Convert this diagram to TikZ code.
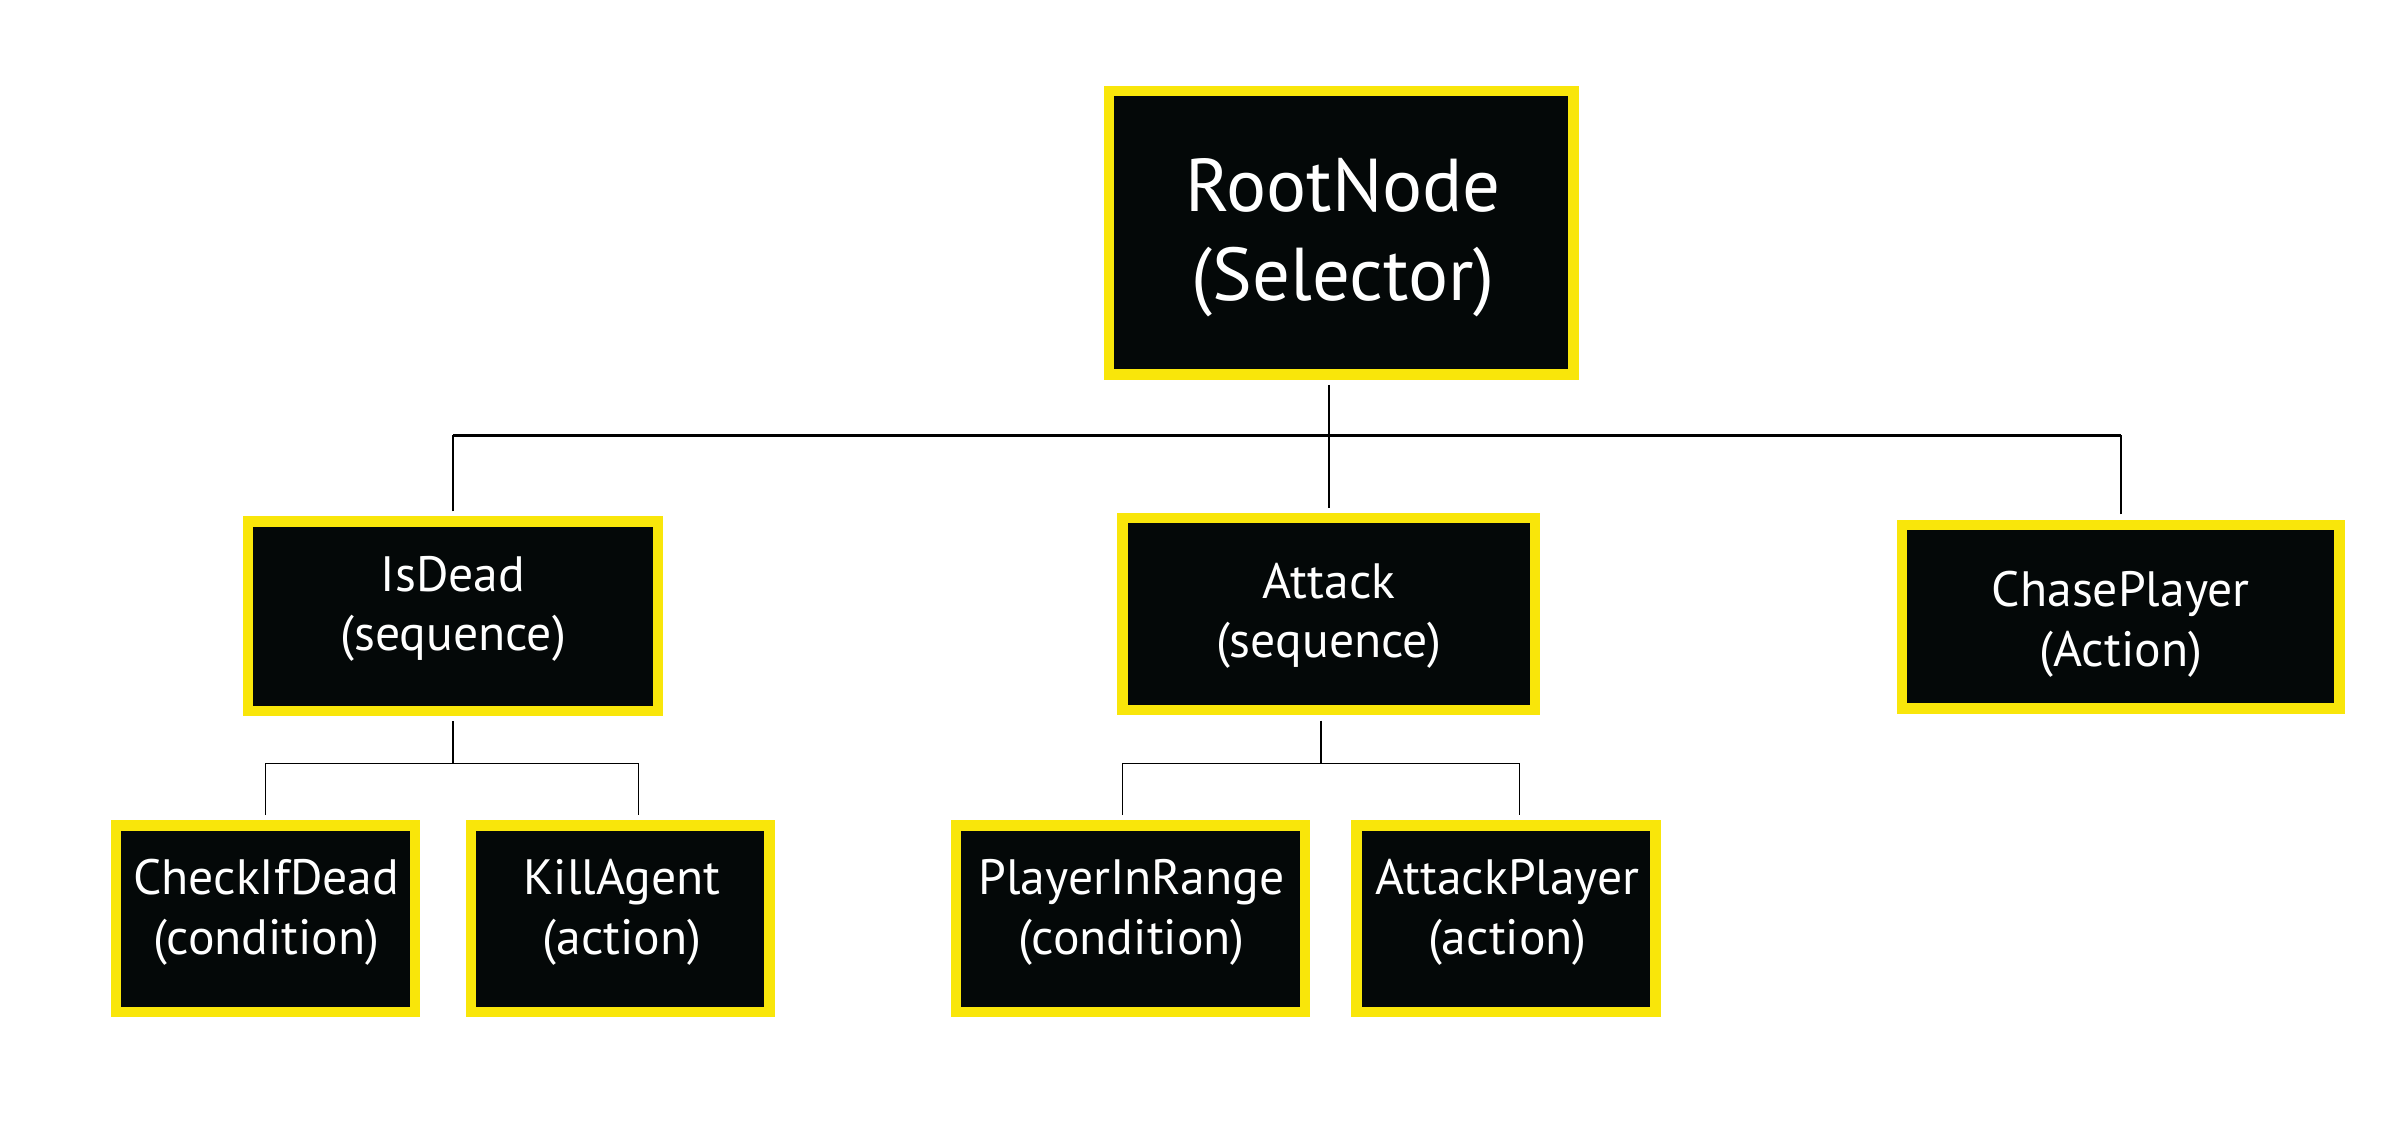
\documentclass[tikz,border=0pt]{standalone}
\usepackage{fontspec}
\setmainfont{PT Sans}
\definecolor{byellow}{RGB}{249,230,10}
\definecolor{bblack}{RGB}{4,8,8}
\tikzset{
  bt/.style={draw=byellow, fill=bblack, line width=6.7pt, inner sep=0pt},
  conn/.style={draw=black, line width=0.9pt},
  hconn/.style={draw=black, line width=1.4pt},
  bigtxt/.style={text=white, inner sep=0pt, anchor=base, font=\fontsize{49}{58}\selectfont},
  smtxt/.style={text=white, inner sep=0pt, anchor=base, font=\fontsize{32.5}{39}\selectfont}
}
\begin{document}
\begin{tikzpicture}[x=1pt,y=-1pt]
\useasboundingbox (0,0) rectangle (1568,737.5);
\fill[white] (0,0) rectangle (1568,737.5);
% boxes
\node[bt, minimum width=303.8pt, minimum height=185.5pt] (root) at (877.75,152.4) {};
\node[bt, minimum width=268.3pt, minimum height=123.8pt] (isdead) at (296.5,403.25) {};
\node[bt, minimum width=270pt, minimum height=125.9pt] (attack) at (869.65,401.9) {};
\node[bt, minimum width=286.3pt, minimum height=120.3pt] (chase) at (1387.9,403.5) {};
\node[bt, minimum width=195.3pt, minimum height=122.1pt] (check) at (173.7,601.2) {};
\node[bt, minimum width=195.3pt, minimum height=122.1pt] (kill) at (406,601.2) {};
\node[bt, minimum width=228.3pt, minimum height=122.1pt] (pir) at (739.8,601.2) {};
\node[bt, minimum width=195.7pt, minimum height=122.1pt] (ap) at (985.5,601.2) {};
% texts
\node[bigtxt] (root-a) at (879,138.6) {RootNode};
\node[bigtxt] (root-b) at (879,196.5) {(Selector)};
\node[smtxt] (isdead-a) at (296.5,386.8) {IsDead};
\node[smtxt] (isdead-b) at (296.5,425.4) {(sequence)};
\node[smtxt] (attack-a) at (869.65,391.9) {Attack};
\node[smtxt] (attack-b) at (869.65,430.3) {(sequence)};
\node[smtxt] (chase-a) at (1387.9,397) {ChasePlayer};
\node[smtxt] (chase-b) at (1387.9,436) {(Action)};
\node[smtxt] (check-a) at (174.3,585.6) {CheckIfDead};
\node[smtxt] (check-b) at (174.3,624.7) {(condition)};
\node[smtxt] (kill-a) at (407,585.6) {KillAgent};
\node[smtxt] (kill-b) at (407,624.7) {(action)};
\node[smtxt] (pir-a) at (740.5,585.6) {PlayerInRange};
\node[smtxt] (pir-b) at (740.5,624.7) {(condition)};
\node[smtxt] (ap-a) at (986.5,585.6) {AttackPlayer};
\node[smtxt] (ap-b) at (986.5,624.7) {(action)};
% connectors
\coordinate (h1) at (0,285);
\coordinate (h2) at (0,499.5);
\draw[conn] ([yshift=-3.35pt]attack.north |- root.south) -- ([yshift=3.35pt]attack.north);
\draw[conn] ([yshift=3.35pt]isdead.north) -- (isdead.north |- h1);
\draw[conn] ([yshift=3.35pt]chase.north) -- (chase.north |- h1);
\draw[hconn] (isdead.north |- h1) -- (chase.north |- h1);
\draw[conn] ([yshift=-3.35pt]isdead.south) -- (isdead.south |- h2);
\draw[conn] ([yshift=3.35pt]check.north) -- (check.north |- h2) -- ([xshift=12pt]kill.north |- h2) -- ([xshift=12pt,yshift=3.35pt]kill.north);
\draw[conn] ([xshift=-5.15pt,yshift=-3.35pt]attack.south) -- ([xshift=-5.15pt]attack.south |- h2);
\draw[conn] ([xshift=-5.1pt,yshift=3.35pt]pir.north) -- ([xshift=-5.1pt]pir.north |- h2) -- ([xshift=8.8pt]ap.north |- h2) -- ([xshift=8.8pt,yshift=3.35pt]ap.north);
\end{tikzpicture}
\end{document}
